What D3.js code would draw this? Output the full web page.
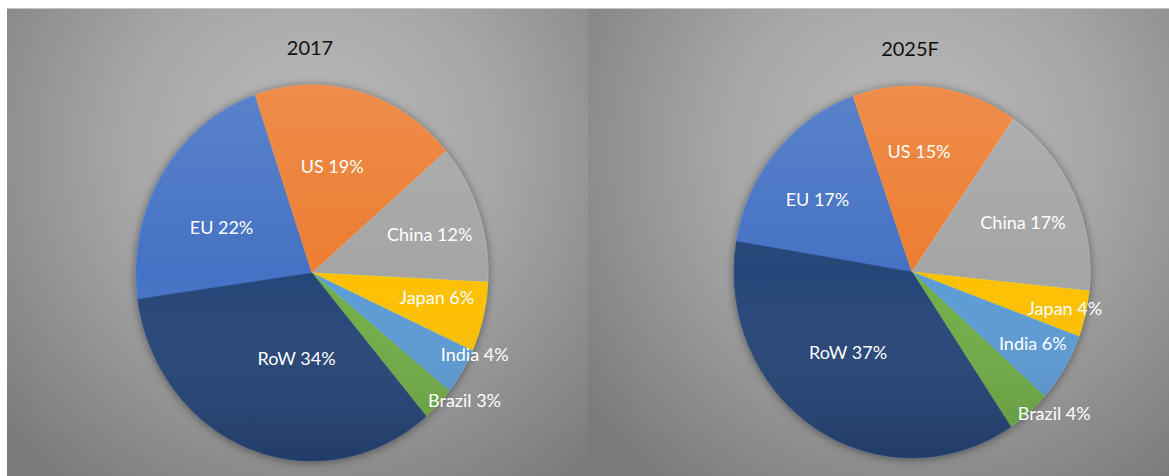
<!DOCTYPE html>
<html>
<head>
<meta charset="utf-8">
<script src="https://cdn.jsdelivr.net/npm/d3@7"></script>
<style>
  html, body { margin: 0; padding: 0; background: #ffffff; }
  svg { display: block; }
</style>
</head>
<body>
<svg id="chart" width="1169" height="476"></svg>
<script>
// ---------------- data ----------------
const categories = ["EU", "US", "China", "Japan", "India", "Brazil", "RoW"];
const values2017 = [22, 19, 12, 6, 4, 3, 34];
const values2025 = [17, 15, 17, 4, 6, 4, 37];
const titles = ["2017", "2025F"];
const sliceColors = ["#4472C4", "#ED7D31", "#A5A5A5", "#FFC000", "#5B9BD5", "#70AD47", "#264478"];

// ---------------- layout ----------------
const W = 1169, H = 476;
const panels = [
  { x0: 7, x1: 588, cx: 312, cy: 273, rx: 176, ry: 188, rot: 262, titleY: 47, values: values2017, title: titles[0],
    // label placement: [angle offset (deg), radius fraction]
    labels: [[-6, 0.57], [-4, 0.58], [1.6, 0.70], [-3.6, 0.72], [-6.6, 1.02], [-6.2, 1.10], [-9.8, 0.46]] },
  { x0: 588, x1: 1169, cx: 912, cy: 272, rx: 178, ry: 186, rot: 279.5, titleY: 48, values: values2025, title: titles[1],
    labels: [[-3.7, 0.66], [-4.2, 0.65], [1.2, 0.68], [-0.3, 0.88], [-1.6, 0.78], [-5.7, 1.10], [7, 0.56]] }
];

const svg = d3.select("#chart");
const defs = svg.append("defs");

// background gradients
panels.forEach((p, i) => {
  const g = defs.append("radialGradient").attr("id", "bg" + i)
    .attr("gradientUnits", "userSpaceOnUse")
    .attr("cx", p.cx).attr("cy", 150).attr("r", 420)
    .attr("fx", p.cx).attr("fy", 150);
  g.append("stop").attr("offset", "0").attr("stop-color", "#bcbcbc");
  g.append("stop").attr("offset", "0.45").attr("stop-color", "#a6a6a6");
  g.append("stop").attr("offset", "1").attr("stop-color", "#7a7a7a");
});

// slice shading overlay
const shade = defs.append("linearGradient").attr("id", "shade")
  .attr("x1", 0).attr("y1", 0).attr("x2", 0).attr("y2", 1);
shade.append("stop").attr("offset", "0").attr("stop-color", "#ffffff").attr("stop-opacity", 0.12);
shade.append("stop").attr("offset", "0.5").attr("stop-color", "#ffffff").attr("stop-opacity", 0);
shade.append("stop").attr("offset", "1").attr("stop-color", "#000000").attr("stop-opacity", 0.14);

const shadow = defs.append("filter").attr("id", "shadow")
  .attr("x", "-20%").attr("y", "-20%").attr("width", "140%").attr("height", "140%");
shadow.append("feDropShadow").attr("dx", 0).attr("dy", 1).attr("stdDeviation", 5)
  .attr("flood-color", "#000").attr("flood-opacity", 0.45);

svg.append("rect").attr("x", 0).attr("y", 0).attr("width", W).attr("height", H).attr("fill", "#ffffff");

panels.forEach((p, i) => {
  svg.append("rect")
    .attr("x", p.x0).attr("y", 8).attr("width", p.x1 - p.x0).attr("height", H - 8)
    .attr("fill", `url(#bg${i})`);
});
svg.append("line").attr("x1", 7).attr("x2", W).attr("y1", 8.5).attr("y2", 8.5)
  .attr("stroke", "#c4c4c4").attr("stroke-width", 1);

const toRad = d => d * Math.PI / 180;

panels.forEach((p, i) => {
  const pie = d3.pie().sort(null).value(d => d)
    .startAngle(toRad(p.rot)).endAngle(toRad(p.rot) + 2 * Math.PI);
  const arcs = pie(p.values);
  const arc = d3.arc().innerRadius(0).outerRadius(p.rx);

  const clipId = "clip" + i;
  defs.append("clipPath").attr("id", clipId)
    .append("ellipse").attr("cx", p.cx).attr("cy", p.cy).attr("rx", p.rx).attr("ry", p.ry);

  const outer = svg.append("g").attr("filter", "url(#shadow)");
  const g = outer.append("g")
    .attr("transform", `translate(${p.cx},${p.cy}) scale(1,${p.ry / p.rx})`);

  g.selectAll("path.slice").data(arcs).join("path")
    .attr("class", "slice")
    .attr("d", arc)
    .attr("fill", (d, j) => sliceColors[j])
    .attr("stroke", (d, j) => d3.color(sliceColors[j]).brighter(0.3))
    .attr("stroke-width", 0.6);

  svg.append("rect")
    .attr("x", p.cx - p.rx).attr("y", p.cy - p.ry)
    .attr("width", 2 * p.rx).attr("height", 2 * p.ry)
    .attr("fill", "url(#shade)")
    .attr("clip-path", `url(#${clipId})`);

  // title
  svg.append("text")
    .attr("x", p.cx - 2).attr("y", p.titleY)
    .attr("text-anchor", "middle").attr("dominant-baseline", "central")
    .attr("font-family", "Lato, 'Liberation Sans', sans-serif")
    .attr("font-size", 20).attr("fill", "#111")
    .text(p.title);

  // labels
  svg.selectAll(null).data(arcs).join("text")
    .attr("x", (d, j) => {
      const a = (d.startAngle + d.endAngle) / 2 + toRad(p.labels[j][0]);
      return p.cx + p.labels[j][1] * p.rx * Math.sin(a);
    })
    .attr("y", (d, j) => {
      const a = (d.startAngle + d.endAngle) / 2 + toRad(p.labels[j][0]);
      return p.cy - p.labels[j][1] * p.ry * Math.cos(a);
    })
    .attr("text-anchor", "middle").attr("dominant-baseline", "central")
    .attr("font-family", "Lato, 'Liberation Sans', sans-serif")
    .attr("font-size", 18).attr("fill", "#ffffff")
    .text((d, j) => `${categories[j]} ${d.data}%`);
});
</script>
</body>
</html>
